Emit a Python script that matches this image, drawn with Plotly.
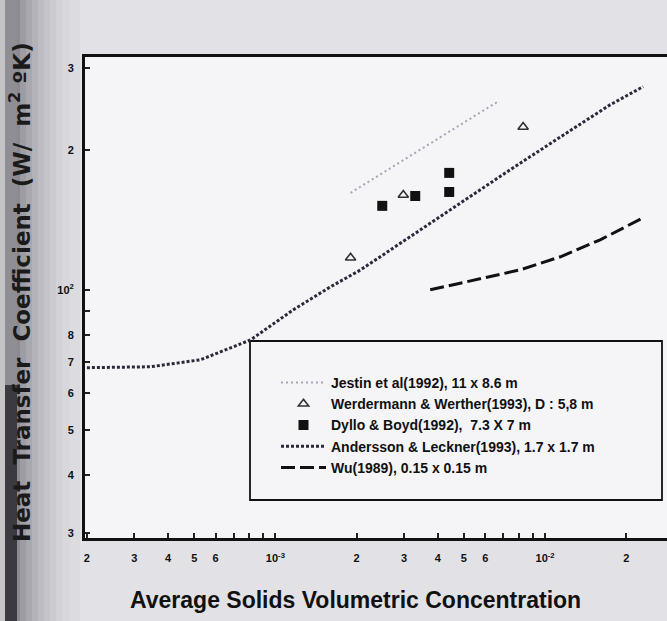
import plotly.graph_objects as go

# ---- data ----
anders_x = [2.0e-4, 3.44e-4, 5.27e-4, 8.08e-4, 1.166e-3, 1.60e-3, 2.07e-3, 3.16e-3,
            4.84e-3, 7.41e-3, 1.14e-2, 1.74e-2, 2.31e-2]
anders_y = [68.0, 68.3, 70.7, 78.0, 90.6, 101.5, 110.4, 130.0, 153.9, 181.2, 213.3, 250.0, 273.7]

jestin_x = [1.90e-3, 3.44e-3, 6.64e-3]
jestin_y = [161.7, 200.0, 253.6]

werder_x = [1.90e-3, 2.98e-3, 8.29e-3]
werder_y = [117.2, 160.0, 224.0]

dyllo_x = [2.49e-3, 3.30e-3, 4.41e-3, 4.41e-3]
dyllo_y = [151.6, 159.2, 178.5, 162.4]

wu_x = [3.75e-3, 5.27e-3, 8.08e-3, 1.14e-2, 1.60e-2, 2.31e-2]
wu_y = [100.0, 104.6, 110.4, 117.8, 128.1, 142.9]

x_tickvals = [2e-4, 3e-4, 4e-4, 5e-4, 6e-4, 7e-4, 8e-4, 9e-4, 1e-3,
              2e-3, 3e-3, 4e-3, 5e-3, 6e-3, 7e-3, 8e-3, 9e-3, 1e-2, 2e-2]
x_ticktext = ["2", "3", "4", "5", "6", "", "", "", "10<sup>-3</sup>",
              "2", "3", "4", "5", "6", "", "", "", "10<sup>-2</sup>", "2"]
y_tickvals = [30, 40, 50, 60, 70, 80, 90, 100, 200, 300]
y_ticktext = ["3", "4", "5", "6", "7", "8", "", "10<sup>2</sup>", "2", "3"]

names = ["Jestin et al(1992), 11 x 8.6 m",
         "Werdermann & Werther(1993), D : 5,8 m",
         "Dyllo & Boyd(1992),  7.3 X 7 m",
         "Andersson & Leckner(1993), 1.7 x 1.7 m",
         "Wu(1989), 0.15 x 0.15 m"]

W, H = 667, 621
ML, MR, MT, MB = 85, 0, 57, 83
PW, PH = W - ML - MR, H - MT - MB

def px_x(p):
    return (p - ML) / PW

def px_y(p):
    return (H - MB - p) / PH

fig = go.Figure()
fig.add_trace(go.Scatter(x=jestin_x, y=jestin_y, mode="lines", name=names[0],
                         line=dict(color="#a4a4b4", width=2, dash="2px,3px"),
                         legendgroup="a"))
fig.add_trace(go.Scatter(x=werder_x, y=werder_y, mode="markers", name=names[1],
                         marker=dict(symbol="triangle-up-open", size=9, color="#303030",
                                     line=dict(width=1.6, color="#303030")),
                         legendgroup="b"))
fig.add_trace(go.Scatter(x=dyllo_x, y=dyllo_y, mode="markers", name=names[2],
                         marker=dict(symbol="square", size=10, color="#111111"),
                         legendgroup="c"))
fig.add_trace(go.Scatter(x=anders_x, y=anders_y, mode="lines", name=names[3],
                         line=dict(color="#2a2a3a", width=3, dash="3px,2px"),
                         legendgroup="d"))
fig.add_trace(go.Scatter(x=wu_x, y=wu_y, mode="lines", name=names[4],
                         line=dict(color="#111111", width=3, dash="14px,5px"),
                         legendgroup="e"))

shapes = []
# left scan strip / gradient
grads = [(0, 5, "#c4c4c6"), (17, 20, "#8a8a90"), (20, 26, "#9c9ca2"),
         (26, 32, "#a8a8ae"), (32, 38, "#b2b2b8"), (38, 44, "#bcbcc2"), (44, 50, "#c4c4ca"),
         (50, 56, "#cbcbd0"), (56, 62, "#d2d2d6"), (62, 70, "#d8d8dc"), (70, 80, "#dcdce0")]
for a, b, c in grads:
    shapes.append(dict(type="rect", xref="paper", yref="paper",
                       x0=px_x(a), x1=px_x(b), y0=px_y(H), y1=px_y(0),
                       fillcolor=c, line=dict(width=0), layer="below"))
# darker band: gray in the upper part, near-black in the lower part
shapes.append(dict(type="rect", xref="paper", yref="paper",
                   x0=px_x(5), x1=px_x(17), y0=px_y(385), y1=px_y(0),
                   fillcolor="#8e8e94", line=dict(width=0), layer="below"))
shapes.append(dict(type="rect", xref="paper", yref="paper",
                   x0=px_x(5), x1=px_x(17), y0=px_y(H), y1=px_y(385),
                   fillcolor="#3a3a40", line=dict(width=0), layer="below"))
# legend box
shapes.append(dict(type="rect", xref="paper", yref="paper",
                   x0=px_x(250), x1=px_x(662), y0=px_y(500), y1=px_y(341),
                   fillcolor="#f5f5f8", line=dict(color="#111111", width=1.8), layer="below"))

annotations = [
    dict(text="<b>Average Solids Volumetric Concentration</b>", xref="paper", yref="paper",
         x=px_x(355), y=px_y(600), showarrow=False, xanchor="center", yanchor="middle",
         font=dict(family="Liberation Sans, Arial", size=23, color="#111111")),
    dict(text="<b>Heat  Transfer  Coefficient  (W/  m<sup>2</sup> ºK)</b>", xref="paper", yref="paper",
         x=px_x(20), y=px_y(292), showarrow=False, xanchor="center", yanchor="middle",
         textangle=-90,
         font=dict(family="DejaVu Sans", size=23, color="#1a1a1a")),
]

tickfont = dict(family="Liberation Sans, Arial", size=11, color="#111111", weight="bold")
fig.update_layout(
    width=W, height=H,
    margin=dict(l=ML, r=MR, t=MT, b=MB),
    paper_bgcolor="#e2e2e6",
    plot_bgcolor="#f5f5f8",
    showlegend=True,
    legend=dict(x=px_x(276), y=px_y(367), xanchor="left", yanchor="top",
                bgcolor="rgba(0,0,0,0)", borderwidth=0, tracegroupgap=0,
                traceorder="grouped",
                font=dict(family="Liberation Sans, Arial", size=14, color="#111111",
                          weight="bold"),
                itemwidth=45),
    xaxis=dict(type="log", range=[-3.706, -1.548], tickvals=x_tickvals, ticktext=x_ticktext,
               ticks="inside", ticklen=5, tickwidth=1.5, tickcolor="#222",
               showline=True, linecolor="#111111", linewidth=3, mirror=True,
               showgrid=False, zeroline=False, tickfont=tickfont, ticklabelstandoff=8),
    yaxis=dict(type="log", range=[1.466, 2.501], tickvals=y_tickvals, ticktext=y_ticktext,
               ticks="inside", ticklen=5, tickwidth=1.5, tickcolor="#222",
               showline=True, linecolor="#111111", linewidth=3, mirror=False,
               showgrid=False, zeroline=False, tickfont=tickfont, ticklabelstandoff=6),
    shapes=shapes,
    annotations=annotations,
)

fig.write_html("out.html")
